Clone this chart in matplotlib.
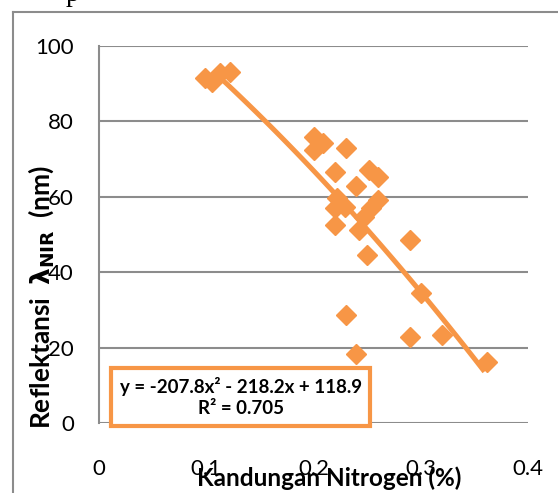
import matplotlib.pyplot as plt
import numpy as np
from matplotlib.lines import Line2D

# Data
kandungan_n = [0.099, 0.105, 0.113, 0.122, 0.200, 0.200, 0.209, 0.230, 0.220, 0.252,
               0.260, 0.240, 0.222, 0.229, 0.220, 0.260, 0.254, 0.247, 0.220, 0.242,
               0.290, 0.250, 0.300, 0.230, 0.290, 0.320, 0.240, 0.362]
reflektansi = [91.5, 90.5, 92.8, 93.0, 75.9, 72.4, 74.2, 72.9, 66.7, 67.1,
               65.3, 62.9, 59.6, 57.4, 56.9, 59.2, 56.9, 54.7, 52.5, 51.2,
               48.5, 44.6, 34.4, 28.6, 22.7, 23.3, 18.2, 16.3]
koef = [-207.8, -218.2, 118.9]
r2 = 0.705
xtick_lbl = ['0', '0.1', '0.2', '0.3', '0.4']

oranye = '#F79646'
abu = '#8C8C8C'

fig = plt.figure(figsize=(5.58, 4.93), dpi=100)
ax = fig.add_axes([99/558, 70/493, 429/558, 377/493])

# garis tren polinomial (ujungnya tertutup titik, seperti di Excel)
xt = np.linspace(0.112, 0.358, 100)
yt = np.polyval(koef, xt)
ax.plot(xt, yt, color=oranye, lw=3.6, zorder=2)
ax.plot(kandungan_n, reflektansi, 'D', color=oranye, ms=10.5, mec=oranye, mew=1, zorder=3)

ax.set_xlim(0, 0.4)
ax.set_ylim(0, 100)
ax.set_xticks([0, 0.1, 0.2, 0.3, 0.4])
ax.set_xticklabels(xtick_lbl)
ax.set_yticks([0, 20, 40, 60, 80, 100])
ax.grid(axis='y', color=abu, lw=1.5)
ax.set_axisbelow(True)
for s in ['top', 'right', 'bottom']:
    ax.spines[s].set_visible(False)
ax.spines['left'].set_color(abu)
ax.spines['left'].set_linewidth(1.5)
ax.tick_params(length=0, labelsize=16)
for lb in ax.get_xticklabels() + ax.get_yticklabels():
    lb.set_fontfamily('Lato')
ax.tick_params(axis='x', pad=26)
ax.tick_params(axis='y', pad=18)

# label sumbu
fig.text(329/558, 1 - 478/493, 'Kandungan Nitrogen (%)', ha='center', va='center',
         fontsize=17.5, fontweight='bold', family='Lato')
fig.text(41/558, 1 - 297/493, r'Reflektansi  $\boldsymbol{\lambda}_{\mathbf{NIR}}$  (nm)',
         ha='center', va='center', rotation=90, fontsize=19, fontweight='bold', family='Lato')

# kotak persamaan
ax.text(0.33, 0.069, 'y = -207.8x² - 218.2x + 118.9\nR² = 0.705', transform=ax.transAxes,
        ha='center', va='center', fontsize=13.5, fontweight='bold', family='Lato',
        linespacing=1.35, zorder=5,
        bbox=dict(boxstyle='square,pad=0.45', fc='white', ec=oranye, lw=3))

# bingkai luar
fig.add_artist(Line2D([13/558, 13/558], [0, 1 - 12/493], color=abu, lw=1.5))
fig.add_artist(Line2D([13/558, 1], [1 - 12/493, 1 - 12/493], color=abu, lw=1.5))
fig.text(73/558, 1.012, 'p', ha='center', va='center', fontsize=20, family='Liberation Serif')

fig.savefig('out.png', dpi=100)
